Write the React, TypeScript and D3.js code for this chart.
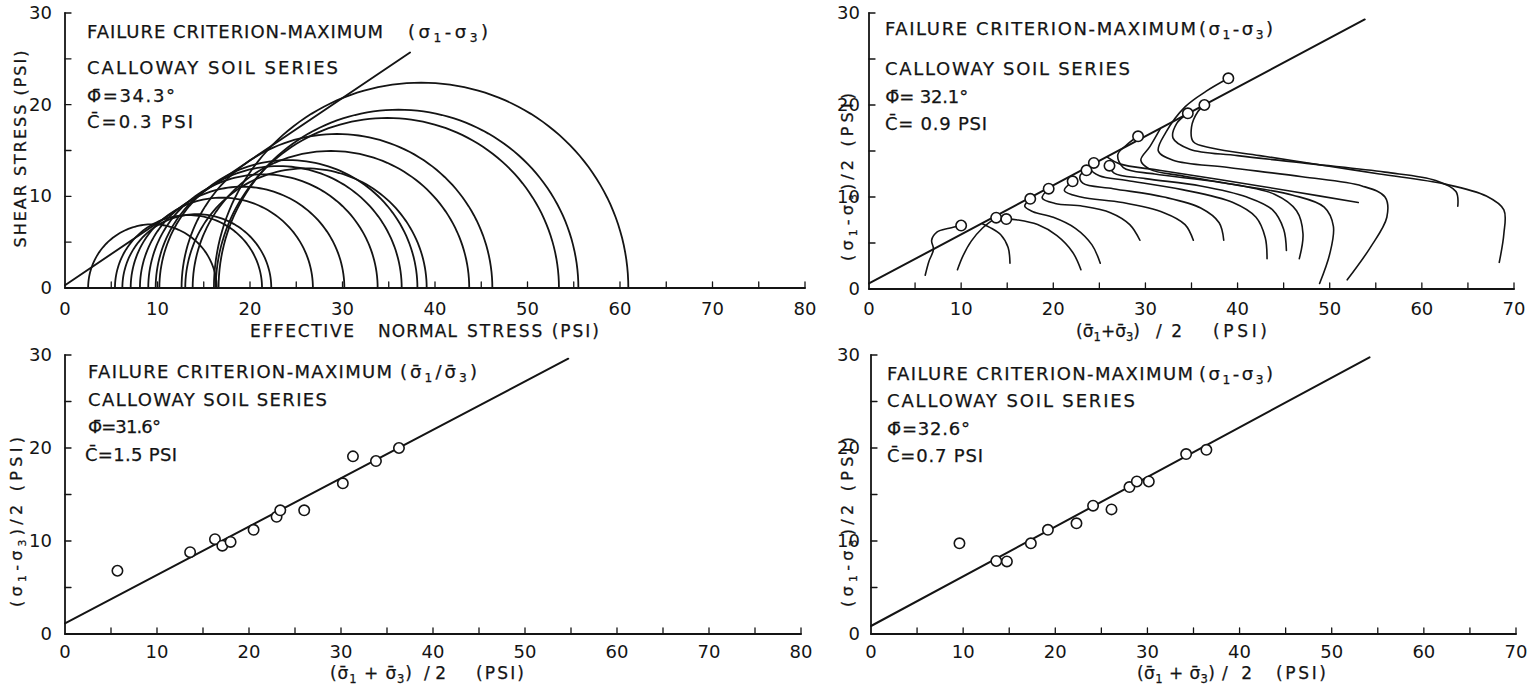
import React from "react";
import * as d3 from "d3";

type Pt = [number, number];

const FONT = "'DejaVu Sans', 'Liberation Sans', sans-serif";
const INK = "#141414";
const BAR = "\u0304";

// ---- top-left: Mohr circles (effective principal stresses, psi) ----
const mohrSigma3 = [2.5, 5.4, 6.2, 7.1, 8.1, 9.0, 9.8, 10.2, 13.0, 13.8, 12.6, 16.3, 16.6, 16.1];
const mohrSigma1 = [16.4, 21.3, 22.3, 26.8, 30.2, 33.8, 36.4, 38.1, 39.1, 43.7, 46.2, 53.4, 55.5, 60.9];
const envelopeTL: Pt[] = [[0, 0.3], [37.3, 25.7]];

// ---- top-right: stress paths and failure points (p, q) ----
const failP = [10.0, 13.8, 14.9, 17.5, 19.5, 22.1, 23.6, 24.4, 26.1, 29.2, 34.6, 36.4, 39.0];
const failQ = [6.9, 7.75, 7.6, 9.8, 10.9, 11.7, 12.9, 13.7, 13.4, 16.6, 19.1, 20.0, 22.9];
const stressPaths: Pt[][] = [
  [[6.1, 1.5], [6.5, 3.0], [7.0, 4.3], [6.8, 5.3], [7.4, 6.2], [8.7, 6.6], [10.0, 6.9]],
  [[9.6, 2.1], [10.2, 3.6], [11.1, 5.2], [12.3, 6.6], [13.8, 7.75]],
  [[15.3, 2.8], [15.1, 4.5], [14.3, 5.9], [13.1, 6.7], [12.3, 7.1]],
  [[23.0, 2.1], [22.1, 4.0], [20.4, 5.8], [18.3, 7.0], [16.2, 7.5], [14.9, 7.6]],
  [[25.1, 2.8], [24.2, 4.8], [22.4, 6.6], [20.0, 7.8], [17.8, 8.4], [16.9, 9.0], [17.5, 9.8]],
  [[29.4, 5.3], [28.3, 7.0], [26.2, 8.3], [23.2, 9.0], [20.2, 9.3], [18.8, 9.9], [19.5, 10.9]],
  [[35.2, 5.3], [34.3, 7.0], [32.0, 8.3], [27.5, 9.4], [23.0, 10.0], [21.2, 10.7], [22.1, 11.7]],
  [[38.5, 5.3], [38.0, 7.2], [36.0, 8.8], [32.0, 10.0], [26.5, 10.9], [23.2, 11.5], [22.9, 12.3], [23.6, 12.9]],
  [[43.2, 3.3], [43.0, 5.6], [42.0, 7.8], [39.5, 9.4], [34.0, 10.8], [28.0, 11.8], [25.0, 12.3], [24.1, 13.0], [24.4, 13.7]],
  [[45.3, 4.2], [45.0, 6.5], [43.8, 8.6], [41.0, 10.0], [36.0, 11.2], [30.0, 12.0], [26.6, 12.6], [26.1, 13.4]],
  [[46.7, 3.3], [47.1, 6.0], [46.4, 8.5], [44.0, 10.3], [38.0, 11.6], [31.0, 12.5], [27.6, 13.2], [27.0, 14.6], [28.0, 15.7], [29.2, 16.6]],
  [[48.9, 0.6], [50.0, 3.8], [50.4, 6.8], [49.4, 8.9], [46.0, 10.2], [40.0, 11.3], [34.0, 12.3], [30.5, 13.0], [29.5, 14.0], [30.5, 15.5], [31.6, 17.4]],
  [[51.9, 1.0], [54.4, 4.5], [56.2, 7.8], [56.0, 10.0], [53.5, 11.2], [47.0, 12.2], [39.0, 13.2], [33.0, 14.0], [31.4, 15.0], [32.2, 17.0], [34.3, 19.8], [36.6, 21.5], [39.0, 22.9]],
  [[53.1, 9.4], [46.0, 10.6], [38.0, 11.9], [31.5, 12.9], [27.2, 13.6], [25.9, 14.3]],
  [[63.9, 9.0], [63.7, 10.6], [61.5, 11.8], [56.0, 12.7], [48.0, 13.6], [40.0, 14.5], [34.8, 15.2], [33.0, 16.4], [33.4, 18.0], [34.6, 19.1]],
  [[68.4, 2.9], [68.9, 6.0], [68.9, 8.6], [67.0, 10.1], [62.5, 11.4], [55.4, 12.5], [49.6, 13.4], [42.4, 14.5], [37.3, 15.3], [35.2, 16.0], [35.0, 17.6], [35.7, 19.3], [36.4, 20.0]],
];
const lineTR: Pt[] = [[0, 0.6], [53.8, 29.3]];

// ---- bottom-left: maximum principal stress ratio ----
const blP = [5.7, 13.6, 16.3, 17.1, 18.0, 20.5, 23.0, 23.4, 26.0, 30.2, 31.3, 33.8, 36.3];
const blQ = [6.8, 8.8, 10.2, 9.5, 9.9, 11.2, 12.6, 13.3, 13.3, 16.2, 19.1, 18.6, 20.0];
const lineBL: Pt[] = [[0, 1.15], [54.7, 29.6]];

// ---- bottom-right: maximum deviator stress ----
const brP = [9.6, 13.6, 14.75, 17.35, 19.2, 22.3, 24.1, 26.1, 28.05, 28.85, 30.15, 34.2, 36.4];
const brQ = [9.75, 7.85, 7.8, 9.75, 11.2, 11.9, 13.8, 13.4, 15.8, 16.4, 16.4, 19.35, 19.8];
const lineBR: Pt[] = [[0, 0.86], [54.1, 29.75]];

// tick labels
const xLabels80 = [0, 10, 20, 30, 40, 50, 60, 70, 80];
const xLabels70 = [0, 10, 20, 30, 40, 50, 60, 70];
const yLabels = [0, 10, 20, 30];

// "_1" -> subscript 1
function Rich({ s, size = 18, ...rest }: any) {
  const parts = s.split(/(_\d)/).filter(Boolean);
  let down = false;
  return (
    <text {...rest} fontSize={size}>
      {parts.map((p: string, i: number) => {
        const sub = p.startsWith("_");
        let dy: number | undefined;
        if (sub && !down) { dy = 4; down = true; }
        else if (!sub && down) { dy = -4; down = false; }
        return (
          <tspan key={i} dy={dy} fontSize={sub ? size * 0.68 : undefined}>
            {sub ? p.slice(1) : p}
          </tspan>
        );
      })}
    </text>
  );
}

function Axes({ x, y, xMax, xTicks, tickY, yLabX }: any) {
  const minorX = d3.range(5, xMax + 1, 5);
  const minorY = d3.range(5, 31, 5);
  return (
    <g>
      <line x1={x(0)} x2={x(xMax)} y1={y(0)} y2={y(0)} strokeWidth={1.8} />
      <line x1={x(0)} x2={x(0)} y1={y(0)} y2={y(30)} strokeWidth={1.8} />
      {minorX.map((v: number) => (
        <line key={"x" + v} x1={x(v)} x2={x(v)} y1={y(0)} y2={y(0) - 6} strokeWidth={1.3} />
      ))}
      {minorY.map((v: number) => (
        <line key={"y" + v} x1={x(0)} x2={x(0) + 6} y1={y(v)} y2={y(v)} strokeWidth={1.3} />
      ))}
      <g stroke="none" fill={INK} fontSize={18}>
        {xTicks.map((v: number) => (
          <text key={"lx" + v} x={x(v)} y={tickY} textAnchor="middle">{v}</text>
        ))}
        {yLabels.map((v) => (
          <text key={"ly" + v} x={yLabX} y={y(v) + 6} textAnchor="end">{v}</text>
        ))}
      </g>
    </g>
  );
}

function Dots({ x, y, px, qy }: any) {
  return (
    <g fill="#fff" strokeWidth={1.6}>
      {px.map((p: number, i: number) => (
        <circle key={i} cx={x(p)} cy={y(qy[i])} r={5.2} />
      ))}
    </g>
  );
}

export default function App() {
  const xTL = d3.scaleLinear().domain([0, 80]).range([65, 805]);
  const yTL = d3.scaleLinear().domain([0, 30]).range([288, 13]);
  const xTR = d3.scaleLinear().domain([0, 70]).range([869, 1514]);
  const yTR = d3.scaleLinear().domain([0, 30]).range([289, 13]);
  const xBL = d3.scaleLinear().domain([0, 80]).range([65, 801]);
  const yBL = d3.scaleLinear().domain([0, 30]).range([634, 355]);
  const xBR = d3.scaleLinear().domain([0, 70]).range([871, 1516]);
  const yBR = d3.scaleLinear().domain([0, 30]).range([634, 355]);

  const straight = (x: any, y: any) =>
    d3.line<Pt>().x((d) => x(d[0])).y((d) => y(d[1]));
  const smooth = d3
    .line<Pt>()
    .x((d) => xTR(d[0]))
    .y((d) => yTR(d[1]))
    .curve(d3.curveCatmullRom.alpha(0.5));

  // semicircle for each test: centre (s1+s3)/2, radius (s1-s3)/2
  const mohr = straight(xTL, yTL);
  const arcs = mohrSigma3.map((s3, i) => {
    const c = (mohrSigma1[i] + s3) / 2;
    const r = (mohrSigma1[i] - s3) / 2;
    const pts: Pt[] = d3.range(0, 181, 2).map((deg) => {
      const a = (deg * Math.PI) / 180;
      return [c + r * Math.cos(a), r * Math.sin(a)];
    });
    return mohr(pts);
  });

  const sB = "\u03C3" + BAR;

  return (
    <svg
      width={1540}
      height={692}
      style={{ position: "absolute", left: 0, top: 0, background: "#fff" }}
      fontFamily={FONT}
    >
      <g stroke={INK} fill="none" strokeLinecap="round">
        {/* ---------- top-left ---------- */}
        <Axes x={xTL} y={yTL} xMax={80} xTicks={xLabels80} tickY={315} yLabX={52} />
        {arcs.map((d, i) => (
          <path key={i} d={d || ""} strokeWidth={1.8} />
        ))}
        <path d={straight(xTL, yTL)(envelopeTL) || ""} strokeWidth={1.9} />

        {/* ---------- top-right ---------- */}
        <Axes x={xTR} y={yTR} xMax={70} xTicks={xLabels70} tickY={315} yLabX={860} />
        {stressPaths.map((p, i) => (
          <path key={i} d={smooth(p) || ""} strokeWidth={1.6} />
        ))}
        <path d={straight(xTR, yTR)(lineTR) || ""} strokeWidth={2} />
        <Dots x={xTR} y={yTR} px={failP} qy={failQ} />

        {/* ---------- bottom-left ---------- */}
        <Axes x={xBL} y={yBL} xMax={80} xTicks={xLabels80} tickY={658} yLabX={52} />
        <path d={straight(xBL, yBL)(lineBL) || ""} strokeWidth={2} />
        <Dots x={xBL} y={yBL} px={blP} qy={blQ} />

        {/* ---------- bottom-right ---------- */}
        <Axes x={xBR} y={yBR} xMax={70} xTicks={xLabels70} tickY={658} yLabX={860} />
        <path d={straight(xBR, yBR)(lineBR) || ""} strokeWidth={2} />
        <Dots x={xBR} y={yBR} px={brP} qy={brQ} />
      </g>

      <g fill={INK} stroke={INK} strokeWidth={0.25}>
        {/* top-left notes */}
        <Rich s="FAILURE CRITERION-MAXIMUM" x={87} y={38} textLength={296} lengthAdjust="spacing" />
        <Rich s="(σ_1-σ_3)" x={408} y={38} textLength={80} lengthAdjust="spacing" />
        <Rich s="CALLOWAY SOIL SERIES" x={87} y={74} textLength={251} lengthAdjust="spacing" />
        <Rich s={"\u03A6" + BAR + "=34.3°"} x={87} y={102} textLength={88} lengthAdjust="spacing" />
        <Rich s={"C" + BAR + "=0.3 PSI"} x={87} y={128} textLength={106} lengthAdjust="spacing" />
        <Rich s="EFFECTIVE" x={250} y={337} size={17} textLength={104} lengthAdjust="spacing" />
        <Rich s="NORMAL" x={378} y={337} size={17} textLength={79} lengthAdjust="spacing" />
        <Rich s="STRESS (PSI)" x={467} y={337} size={17} textLength={132} lengthAdjust="spacing" />
        <Rich s="SHEAR STRESS (PSI)" size={16} transform="translate(26,149) rotate(-90)" textAnchor="middle" textLength={197} lengthAdjust="spacing" />

        {/* top-right notes */}
        <Rich s="FAILURE  CRITERION-MAXIMUM" x={885} y={35} textLength={311} lengthAdjust="spacing" />
        <Rich s="(σ_1-σ_3)" x={1199} y={35} textLength={74} lengthAdjust="spacing" />
        <Rich s="CALLOWAY SOIL SERIES" x={885} y={75} textLength={245} lengthAdjust="spacing" />
        <Rich s={"\u03A6" + BAR + "= 32.1°"} x={885} y={103} textLength={83} lengthAdjust="spacing" />
        <Rich s={"C" + BAR + "= 0.9 PSI"} x={885} y={130} textLength={102} lengthAdjust="spacing" />
        <Rich s={"(" + sB + "_1+" + sB + "_3)"} x={1076} y={337} size={17} textLength={64} lengthAdjust="spacing" />
        <Rich s="/2" x={1156} y={337} size={17} textLength={26} lengthAdjust="spacing" />
        <Rich s="(PSI)" x={1213} y={337} size={17} textLength={54} lengthAdjust="spacing" />
        <Rich s="(σ_1-σ_3)/2  (PSI)" size={16} transform="translate(853,177) rotate(-90)" textAnchor="middle" textLength={168} lengthAdjust="spacing" />

        {/* bottom-left notes */}
        <Rich s="FAILURE CRITERION-MAXIMUM" x={88} y={378} textLength={304} lengthAdjust="spacing" />
        <Rich s={"(" + sB + "_1/" + sB + "_3)"} x={400} y={378} textLength={77} lengthAdjust="spacing" />
        <Rich s="CALLOWAY SOIL SERIES" x={88} y={406} textLength={239} lengthAdjust="spacing" />
        <Rich s={"\u03A6" + BAR + "=31.6°"} x={87} y={433} textLength={73} lengthAdjust="spacing" />
        <Rich s={"C" + BAR + "=1.5 PSI"} x={85} y={461} textLength={92} lengthAdjust="spacing" />
        <Rich s={"(" + sB + "_1 + " + sB + "_3)"} x={330} y={679} size={17} textLength={82} lengthAdjust="spacing" />
        <Rich s="/2" x={424} y={679} size={17} textLength={22} lengthAdjust="spacing" />
        <Rich s="(PSI)" x={476} y={679} size={17} textLength={48} lengthAdjust="spacing" />
        <Rich s="(σ_1-σ_3)/2  (PSI)" size={16} transform="translate(22,522) rotate(-90)" textAnchor="middle" textLength={170} lengthAdjust="spacing" />

        {/* bottom-right notes */}
        <Rich s="FAILURE  CRITERION-MAXIMUM" x={887} y={380} textLength={306} lengthAdjust="spacing" />
        <Rich s="(σ_1-σ_3)" x={1199} y={380} textLength={74} lengthAdjust="spacing" />
        <Rich s="CALLOWAY SOIL SERIES" x={887} y={407} textLength={248} lengthAdjust="spacing" />
        <Rich s={"\u03A6" + BAR + "=32.6°"} x={887} y={435} textLength={83} lengthAdjust="spacing" />
        <Rich s={"C" + BAR + "=0.7 PSI"} x={887} y={462} textLength={96} lengthAdjust="spacing" />
        <Rich s={"(" + sB + "_1 + " + sB + "_3)"} x={1137} y={679} size={17} textLength={78} lengthAdjust="spacing" />
        <Rich s="/ 2" x={1222} y={679} size={17} textLength={30} lengthAdjust="spacing" />
        <Rich s="(PSI)" x={1276} y={679} size={17} textLength={50} lengthAdjust="spacing" />
        <Rich s="(σ_1-σ_3)/2  (PSI)" size={16} transform="translate(853,522) rotate(-90)" textAnchor="middle" textLength={170} lengthAdjust="spacing" />
      </g>
    </svg>
  );
}
